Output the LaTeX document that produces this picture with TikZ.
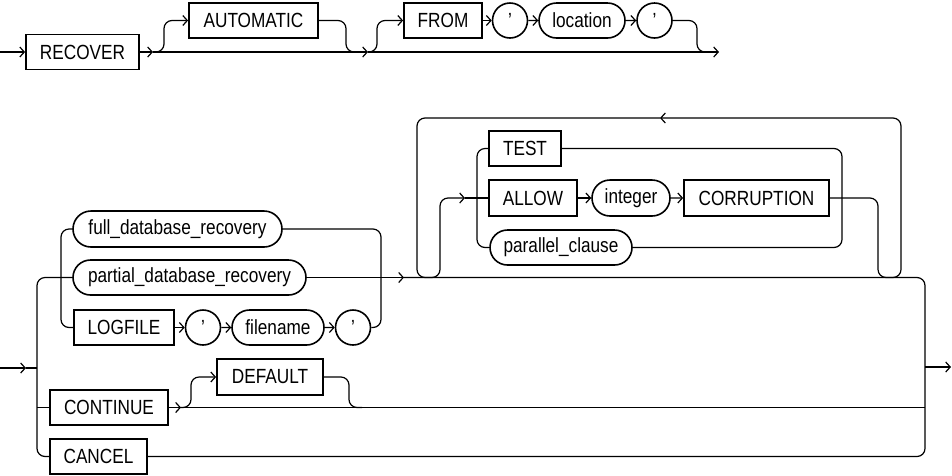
\documentclass[tikz,border=0pt]{standalone}
\usepackage{fontspec}
\setmainfont{Liberation Sans}[FakeStretch=0.84]
\usetikzlibrary{arrows.meta,shapes.misc}
\begin{document}
\begin{tikzpicture}[x=1pt,y=-1pt,
  line width=1.2pt,
  every node/.style={font=\fontsize{20.5}{24}\selectfont, inner sep=0pt},
  kw/.style={draw, rectangle, line width=1.8pt, minimum height=35pt},
  nt/.style={draw, rounded rectangle, line width=1.6pt, minimum height=35pt},
  arr/.style={-{Straight Barb[length=4.5pt,width=10pt]}},
  rc/.style={rounded corners=8pt}
]
\useasboundingbox (0,0) rectangle (952,475);

% ---------- top row ----------
\node[kw, minimum width=113pt] (rec) at (82.5,52) {RECOVER};
\node[kw, minimum width=129pt] (auto) at (253.5,20.5) {AUTOMATIC};
\node[kw, minimum width=78pt] (from) at (443,20.5) {FROM};
\node[nt, minimum width=30pt] (q1) at (510,20.5) {'};
\node[nt, minimum width=86pt] (loc) at (582,20.5) {location};
\node[nt, minimum width=31pt] (q2) at (654.5,20.5) {'};

\coordinate (s0) at (0,52);
\coordinate (c1) at (153,52);
\coordinate (c2) at (368,52);
\coordinate (cend) at (719,52);

\draw[arr] (s0) -- (rec.west);
\draw[arr] (rec.east) -- (c1);
\draw[arr] (c1) -- (c2);
\draw[arr] (c2) -- (cend);
\draw[rc, arr] (c1) -- (164,52) -- (164,20.5) -- (auto.west);
\draw[rc] (auto.east) -- (346,20.5) -- (346,52) -- (360,52);
\draw[rc, arr] (c2) -- (377,52) -- (377,20.5) -- (from.west);
\draw[arr] (from) -- (q1);
\draw[arr] (q1) -- (loc);
\draw[arr] (loc) -- (q2);
\draw[rc] (q2.east) -- (697,20.5) -- (697,52) -- (708,52);

% ---------- bottom part ----------
\node[nt, minimum width=209pt, minimum height=36pt] (full) at (177.5,229) {full\_database\_recovery};
\node[nt, minimum width=233pt] (partial) at (189.5,277.5) {partial\_database\_recovery};
\node[kw, minimum width=100pt] (logfile) at (124,327.5) {LOGFILE};
\node[nt, minimum width=30pt] (q3) at (203,327.5) {'};
\node[nt, minimum width=92pt] (fname) at (278,327.5) {filename};
\node[nt, minimum width=30pt] (q4) at (353,327.5) {'};
\node[kw, minimum width=118pt] (cont) at (109,407.5) {CONTINUE};
\node[kw, minimum width=106pt, minimum height=36pt] (def) at (270,377) {DEFAULT};
\node[kw, minimum width=97pt] (cancel) at (98.5,456.5) {CANCEL};

\node[kw, minimum width=72pt] (test) at (525,148.5) {TEST};
\node[kw, minimum width=88pt, minimum height=36pt] (allow) at (533,198) {ALLOW};
\node[nt, minimum width=78pt, minimum height=36pt] (int) at (631,198) {integer};
\node[kw, minimum width=145pt, minimum height=36pt] (corr) at (756.5,198) {CORRUPTION};
\node[nt, minimum width=142pt] (par) at (561,247.5) {parallel\_clause};

\coordinate (e0) at (0,368);
\coordinate (e1) at (26,368);
\coordinate (lr) at (37,368);
\coordinate (m0) at (404,277.5);
\coordinate (rr) at (925,367);
\coordinate (ex) at (951,367);
\coordinate (k1) at (181,407.5);
\coordinate (la) at (465,198);
\coordinate (lb) at (660,118);

% entry
\draw[arr] (e0) -- (e1);
\draw (e1) -- (lr);
% outer left rail
\draw[rc] (partial.west) -- (37,277.5) -- (37,456.5) -- (cancel.west);
\draw (37,407.5) -- (cont.west);
% inner group rails
\draw[rc] (full.west) -- (61,229) -- (61,327.5) -- (logfile.west);
\draw[rc] (full.east) -- (381,229) -- (381,327.5) -- (q4.east);
\draw[arr] (logfile) -- (q3);
\draw[arr] (q3) -- (fname);
\draw[arr] (fname) -- (q4);
% to loop
\draw[arr] (partial.east) -- (m0);
% main line through loop and right rail
\draw[rc] (m0) -- (925,277.5) -- (925,456.5) -- (cancel.east);
\draw[arr] (rr) -- (ex);
% continue / default
\draw[arr] (cont.east) -- (k1);
\draw (k1) -- (925,407.5);
\draw[rc, arr] (k1) -- (191,407.5) -- (191,377) -- (def.west);
\draw[rc] (def.east) -- (349,377) -- (349,407.5) -- (362,407.5);

% loop
\draw[rc, arr] (corr.east) -- (878,198) -- (878,277.5) -- (901,277.5) -- (901,118) -- (lb);
\draw[rc, arr] (lb) -- (417,118) -- (417,277.5) -- (440,277.5) -- (440,198) -- (la);
\draw (la) -- (allow.west);
\draw[rc] (test.west) -- (477,148.5) -- (477,247.5) -- (par.west);
\draw[rc] (test.east) -- (842,148.5) -- (842,247.5) -- (par.east);
\draw[arr] (allow) -- (int);
\draw[arr] (int) -- (corr);
\end{tikzpicture}
\end{document}
